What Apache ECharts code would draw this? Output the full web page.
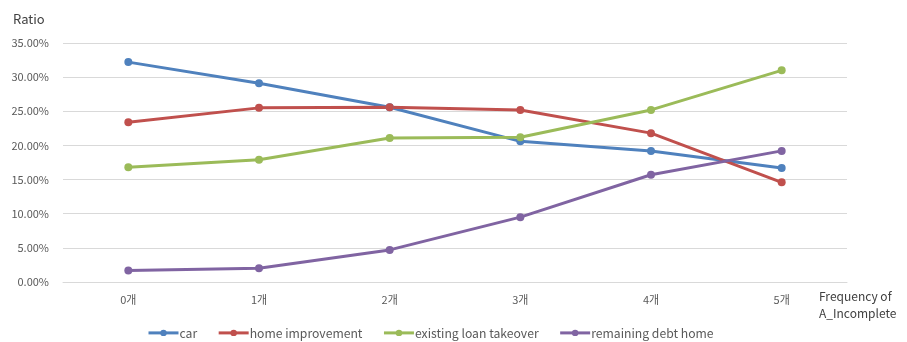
<!DOCTYPE html>
<html>
<head>
<meta charset="utf-8">
<script src="https://cdn.jsdelivr.net/npm/echarts@6/dist/echarts.min.js"></script>
<style>
  html, body { margin: 0; padding: 0; background: #fff; }
  #chart { width: 907px; height: 342px; }
</style>
</head>
<body>
<div id="chart"></div>
<script>
// Share of each loan purpose by number of incomplete items (A_Incomplete)
const categories = ['0개', '1개', '2개', '3개', '4개', '5개'];
const car = [32.2, 29.1, 25.6, 20.6, 19.2, 16.7];
const homeImprovement = [23.4, 25.5, 25.6, 25.2, 21.8, 14.6];
const existingLoanTakeover = [16.8, 17.9, 21.1, 21.2, 25.2, 31.0];
const remainingDebtHome = [1.7, 2.0, 4.7, 9.5, 15.7, 19.2];
const seriesNames = ['car', 'home improvement', 'existing loan takeover', 'remaining debt home'];
const colors = ['#4f81bd', '#c0504d', '#9bbb59', '#8064a2'];

const FONT = '"Noto Sans CJK KR", "Open Sans", sans-serif';
const chart = echarts.init(document.getElementById('chart'));

const makeSeries = (name, data, color) => ({
  name,
  type: 'line',
  data,
  symbol: 'circle',
  symbolSize: 8,
  lineStyle: { width: 3, color },
  itemStyle: { color },
  emphasis: { disabled: true }
});

chart.setOption({
  animation: false,
  color: colors,
  textStyle: { fontFamily: FONT },
  grid: { left: 63, right: 60, top: 43, bottom: 60 },
  title: {
    text: 'Ratio',
    left: 8,
    top: 8,
    textStyle: { fontSize: 13, fontWeight: 'normal', color: '#404040', fontFamily: FONT }
  },
  legend: {
    bottom: -2,
    left: 142,
    itemWidth: 30,
    itemHeight: 8,
    itemGap: 20,
    data: seriesNames,
    lineStyle: { width: 3 },
    textStyle: { fontSize: 12.2, color: '#595959', fontFamily: FONT, padding: [0, 0, 0, -4] }
  },
  xAxis: {
    type: 'category',
    data: categories,
    boundaryGap: true,
    name: 'Frequency of\nA_Incomplete',
    nameLocation: 'end',
    nameGap: -28,
    nameTextStyle: {
      fontSize: 12, color: '#404040', fontFamily: FONT, align: 'left',
      verticalAlign: 'top', padding: [6, 0, 0, 0], lineHeight: 17
    },
    axisLine: { show: true, lineStyle: { color: '#d9d9d9', width: 1 } },
    axisTick: { show: false },
    axisLabel: { fontSize: 11, color: '#595959', margin: 12, fontFamily: FONT }
  },
  yAxis: {
    type: 'value',
    min: 0,
    max: 35,
    interval: 5,
    axisLine: { show: false },
    axisTick: { show: false },
    splitLine: { lineStyle: { color: '#d9d9d9', width: 1 } },
    axisLabel: {
      fontSize: 11, color: '#595959', margin: 14, fontFamily: FONT,
      formatter: v => v.toFixed(2) + '%'
    }
  },
  series: [
    makeSeries(seriesNames[0], car, colors[0]),
    makeSeries(seriesNames[1], homeImprovement, colors[1]),
    makeSeries(seriesNames[2], existingLoanTakeover, colors[2]),
    makeSeries(seriesNames[3], remainingDebtHome, colors[3])
  ]
});
</script>
</body>
</html>
